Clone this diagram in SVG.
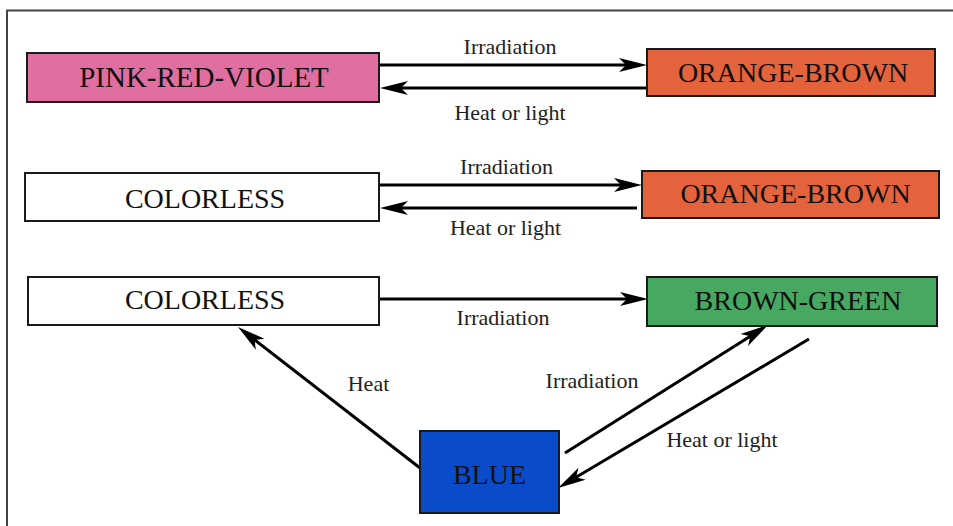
<svg xmlns="http://www.w3.org/2000/svg" width="953" height="526" viewBox="0 0 953 526">
<defs>
<style>
.box{stroke:#1a1a1a;stroke-width:2}
.nl{font-family:"Liberation Serif","Times New Roman",serif;font-size:28px;fill:#111;text-anchor:middle}
.el{font-family:"Liberation Serif","Times New Roman",serif;font-size:22px;fill:#222;text-anchor:middle}
.edge{stroke:#000;stroke-width:3;fill:none;marker-end:url(#ah)}
</style>
<marker id="ah" markerUnits="userSpaceOnUse" orient="auto" refX="8" refY="0" markerWidth="30" markerHeight="16" overflow="visible">
<path d="M28,0 L0,-7 L7,0 L0,7 Z" fill="#000"/>
</marker>
</defs>
<rect width="953" height="526" fill="#fff"/>
<path d="M7,526 V10.5 H953" fill="none" stroke="#444" stroke-width="2"/>
<g id="connectors">
<line class="edge" x1="380" y1="65" x2="627" y2="65"/>
<line class="edge" x1="647" y1="88" x2="400" y2="88"/>
<line class="edge" x1="379" y1="185" x2="622" y2="185"/>
<line class="edge" x1="637" y1="208" x2="400" y2="208"/>
<line class="edge" x1="379" y1="299" x2="628" y2="299"/>
<line class="edge" x1="420" y1="468" x2="253.8" y2="339.3"/>
<line class="edge" x1="565" y1="453" x2="751.1" y2="335.7"/>
<line class="edge" x1="809" y1="339" x2="575.2" y2="477.8"/>
<text class="el" x="510" y="54">Irradiation</text>
<text class="el" x="510" y="120">Heat or light</text>
<text class="el" x="506.5" y="174">Irradiation</text>
<text class="el" x="505.5" y="235">Heat or light</text>
<text class="el" x="503" y="325">Irradiation</text>
<text class="el" x="368.5" y="391">Heat</text>
<text class="el" x="592" y="388">Irradiation</text>
<text class="el" x="722" y="447">Heat or light</text>
</g>
<g id="pink">
<rect class="box" x="27" y="53" width="352" height="49" fill="#e06ea0"/>
<text class="nl" x="204" y="87" style="font-size:29px">PINK-RED-VIOLET</text>
</g>
<g id="orange1">
<rect class="box" x="647" y="49" width="288" height="47" fill="#e5633c"/>
<text class="nl" x="793" y="82">ORANGE-BROWN</text>
</g>
<g id="colorless1">
<rect class="box" x="25" y="173" width="354" height="48" fill="#fff"/>
<text class="nl" x="205" y="208">COLORLESS</text>
</g>
<g id="orange2">
<rect class="box" x="642" y="171" width="297" height="47" fill="#e5633c"/>
<text class="nl" x="795.5" y="203">ORANGE-BROWN</text>
</g>
<g id="colorless2">
<rect class="box" x="28" y="277" width="351" height="48" fill="#fff"/>
<text class="nl" x="205" y="309">COLORLESS</text>
</g>
<g id="browngreen">
<rect class="box" x="647" y="277" width="290" height="49" fill="#47a862"/>
<text class="nl" x="798" y="310">BROWN-GREEN</text>
</g>
<g id="blue">
<rect class="box" x="420" y="431" width="139" height="82" fill="#0a4bcb"/>
<text class="nl" x="489.5" y="484">BLUE</text>
</g>
</svg>
